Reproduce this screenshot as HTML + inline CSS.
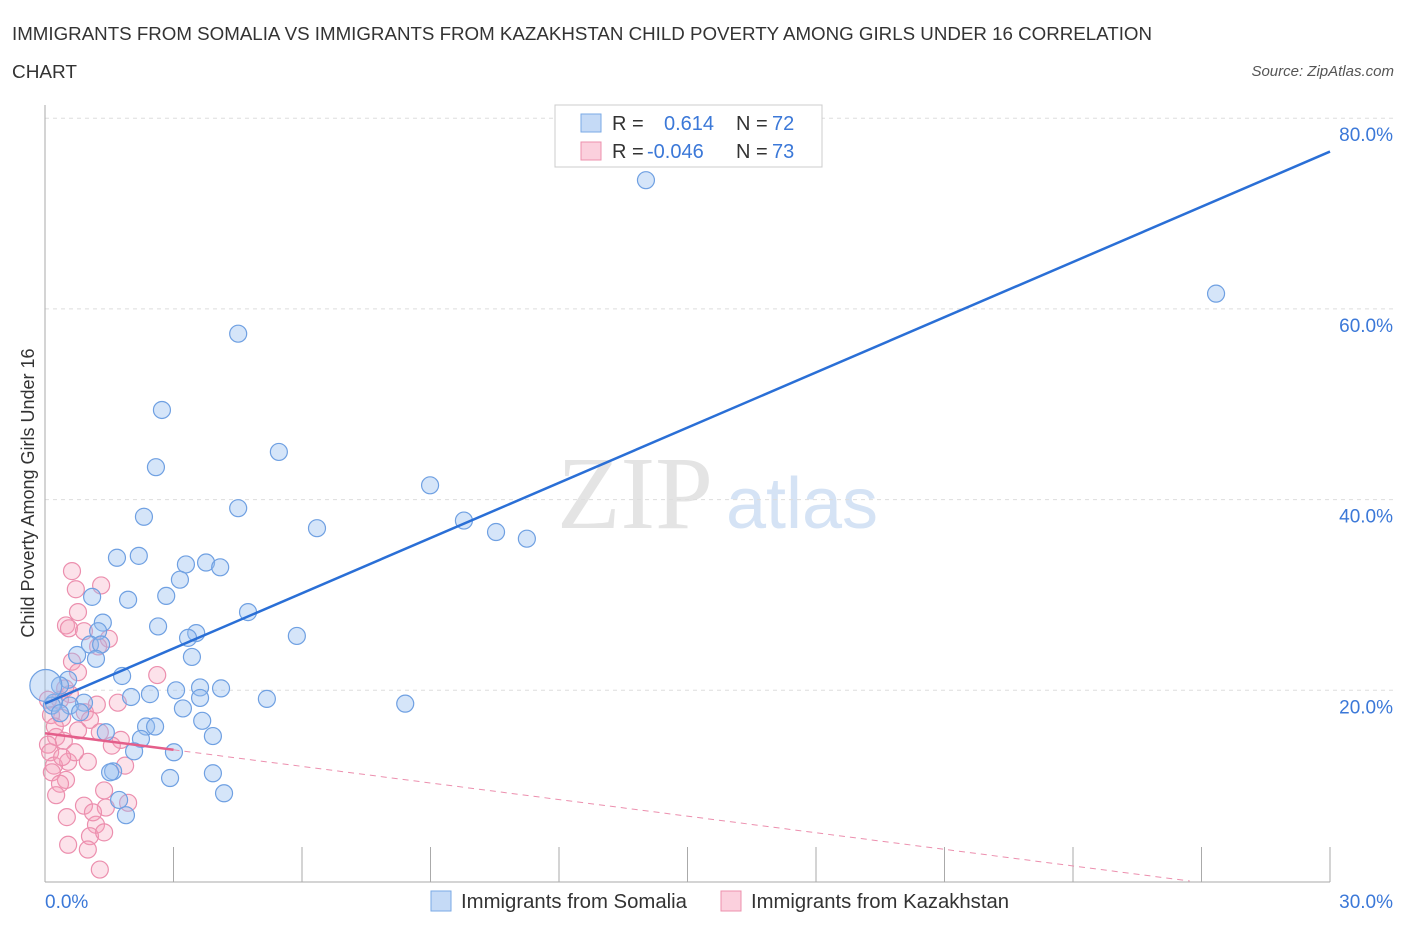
<!DOCTYPE html>
<html><head><meta charset="utf-8"><style>
body{margin:0;background:#fff;font-family:"Liberation Sans",sans-serif;}
</style></head><body>
<svg id="c" width="1406" height="930" xmlns="http://www.w3.org/2000/svg">
<text x="12" y="40" font-size="18" fill="#333" textLength="1140" lengthAdjust="spacingAndGlyphs">IMMIGRANTS FROM SOMALIA VS IMMIGRANTS FROM KAZAKHSTAN CHILD POVERTY AMONG GIRLS UNDER 16 CORRELATION</text>
<text x="12" y="78" font-size="18" fill="#333" textLength="65" lengthAdjust="spacingAndGlyphs">CHART</text>
<text x="1394" y="76" font-size="15" fill="#555" font-style="italic" text-anchor="end">Source: ZipAtlas.com</text>
<text x="635" y="528" font-size="104" fill="#e4e4e4" font-family="Liberation Serif,serif" text-anchor="middle">ZIP</text>
<text x="802" y="528" font-size="72" fill="#d5e3f5" text-anchor="middle">atlas</text>
<g id="grid"></g><g id="axes"></g><g id="pts"></g><g id="lines"></g>
<text transform="translate(34,493) rotate(-90)" font-size="18" fill="#333" text-anchor="middle">Child Poverty Among Girls Under 16</text>
<g>
<rect x="555" y="105" width="267" height="62" fill="#fff" stroke="#ccc"/>
<rect x="581" y="114" width="20" height="18" fill="#c5daf6" stroke="#7aaae6"/>
<rect x="581" y="142" width="20" height="18" fill="#fbd0dd" stroke="#ec90ad"/>
<text x="612" y="130" font-size="20" fill="#333">R =</text><text x="664" y="130" font-size="20" fill="#3b78d8">0.614</text>
<text x="736" y="130" font-size="20" fill="#333">N =</text><text x="772" y="130" font-size="20" fill="#3b78d8">72</text>
<text x="612" y="158" font-size="20" fill="#333">R =</text><text x="647" y="158" font-size="20" fill="#3b78d8">-0.046</text>
<text x="736" y="158" font-size="20" fill="#333">N =</text><text x="772" y="158" font-size="20" fill="#3b78d8">73</text>
</g>
<g>
<rect x="431" y="891" width="20" height="20" fill="#c5daf6" stroke="#7aaae6"/>
<text x="461" y="908" font-size="20" fill="#333" textLength="226" lengthAdjust="spacingAndGlyphs">Immigrants from Somalia</text>
<rect x="721" y="891" width="20" height="20" fill="#fbd0dd" stroke="#ec90ad"/>
<text x="751" y="908" font-size="20" fill="#333" textLength="258" lengthAdjust="spacingAndGlyphs">Immigrants from Kazakhstan</text>
</g>
</svg>
<script>
const xTickVals=[0,3,6,9,12,15,18,21,24,27,30];
const yTickVals=[20,40,60,80];
const blueX=[14.03,27.34,4.51,2.73,5.46,2.59,4.51,8.99,2.31,6.35,9.78,10.53,11.25,1.68,2.19,3.29,3.76,4.09,3.15,1.10,1.94,2.83,4.74,1.35,1.24,2.64,3.53,3.34,5.88,1.05,1.31,0.75,1.19,3.43,1.80,0.54,0.35,3.06,2.45,3.62,4.11,2.01,5.18,8.41,0.21,0.91,0.58,3.22,3.62,3.67,2.36,2.57,1.42,3.92,2.24,2.08,3.01,1.59,1.52,3.92,2.92,4.18,1.73,1.89,0.16,0.35,0.82,0.02];
const blueY=[73.5,61.6,57.4,49.4,45.0,43.4,39.1,41.5,38.2,37.0,37.8,36.6,35.9,33.9,34.1,33.2,33.4,32.9,31.6,29.8,29.5,29.9,28.2,27.1,26.2,26.7,26.0,25.5,25.7,24.8,24.8,23.7,23.3,23.5,21.5,21.1,20.5,20.0,19.6,20.3,20.2,19.3,19.1,18.6,18.7,18.7,18.4,18.1,19.2,16.8,16.2,16.2,15.6,15.2,14.9,13.6,13.5,11.5,11.4,11.3,10.8,9.2,8.5,6.9,18.4,17.6,17.7,20.5];
const pinkX=[0.63,1.31,0.72,0.77,0.49,0.56,0.91,1.49,1.24,0.63,2.62,0.77,0.47,0.58,0.35,1.21,1.70,0.93,0.40,0.14,1.05,0.77,0.26,0.44,0.07,1.28,1.77,1.56,0.12,1.00,0.54,0.21,1.87,0.16,0.49,0.35,1.38,0.26,0.91,1.94,1.42,0.51,1.19,1.12,1.05,1.38,0.54,1.00,1.28,0.07,0.23,0.70,0.40];
const pinkY=[32.5,31.0,30.6,28.2,26.8,26.5,26.2,25.4,24.6,23.0,21.6,21.9,20.2,19.6,19.0,18.5,18.7,17.7,17.1,17.4,16.9,15.8,15.1,14.7,14.3,15.6,14.8,14.2,13.5,12.5,12.5,12.1,12.1,11.4,10.6,10.2,9.5,9.0,7.9,8.2,7.7,6.7,5.9,7.2,4.7,5.1,3.8,3.3,1.2,19.0,16.2,13.5,13.0];
const blueFit=[18.6,1.93];   // intercept, slope
const pinkFit=[15.5,-0.58];
const NS='http://www.w3.org/2000/svg';
const X=v=>45+v/30*1285, Y=v=>881-v/20*190.7;
function mk(t,a,p){const e=document.createElementNS(NS,t);for(const k in a)e.setAttribute(k,a[k]);document.getElementById(p).appendChild(e);return e;}
yTickVals.forEach(v=>{
 const l=mk('line',{x1:45,x2:1394,y1:Y(v),y2:Y(v),stroke:'#ddd','stroke-dasharray':'4,4'},'grid');
 
 
 const t=mk('text',{x:1393,y:Y(v)+23,'font-size':19,fill:'#3b78d8','text-anchor':'end'},'axes');t.textContent=v.toFixed(1)+'%';
 
 
});
mk('line',{x1:45,x2:45,y1:105,y2:882,stroke:'#aaa'},'axes');
mk('line',{x1:45,x2:1330,y1:882,y2:882,stroke:'#aaa'},'axes');
xTickVals.forEach(v=>{const l=mk('line',{x1:X(v),x2:X(v),y1:882,y2:v==0?882:847,stroke:'#aaa'},'axes');
 
 });
let t=mk('text',{x:45,y:908,'font-size':19,fill:'#3b78d8'},'axes');t.textContent='0.0%';


t=mk('text',{x:1393,y:908,'font-size':19,fill:'#3b78d8','text-anchor':'end'},'axes');t.textContent='30.0%';


pinkX.forEach((x,i)=>{const c=mk('circle',{cx:X(x),cy:Y(pinkY[i]),r:8.5,fill:'rgba(245,160,185,0.3)',stroke:'#ec8fae','stroke-width':1.2},'pts');
 
 });
blueX.forEach((x,i)=>{const c=mk('circle',{cx:X(x),cy:Y(blueY[i]),r:i==blueX.length-1?16:8.5,fill:'rgba(150,190,240,0.4)',stroke:'#6fa0e2','stroke-width':1.2},'pts');
 
 });
let l=mk('line',{x1:X(0),y1:Y(blueFit[0]),x2:X(30),y2:Y(blueFit[0]+blueFit[1]*30),stroke:'#2a6fd6','stroke-width':2.5},'lines');


const pz=-pinkFit[0]/pinkFit[1];
l=mk('line',{x1:X(3),y1:Y(pinkFit[0]+pinkFit[1]*3),x2:X(pz),y2:Y(0),stroke:'#ec8fae','stroke-width':1,'stroke-dasharray':'6,5'},'lines');


l=mk('line',{x1:X(0),y1:Y(pinkFit[0]),x2:X(3),y2:Y(pinkFit[0]+pinkFit[1]*3),stroke:'#e45e8a','stroke-width':2.5},'lines');


</script>
</body></html>
